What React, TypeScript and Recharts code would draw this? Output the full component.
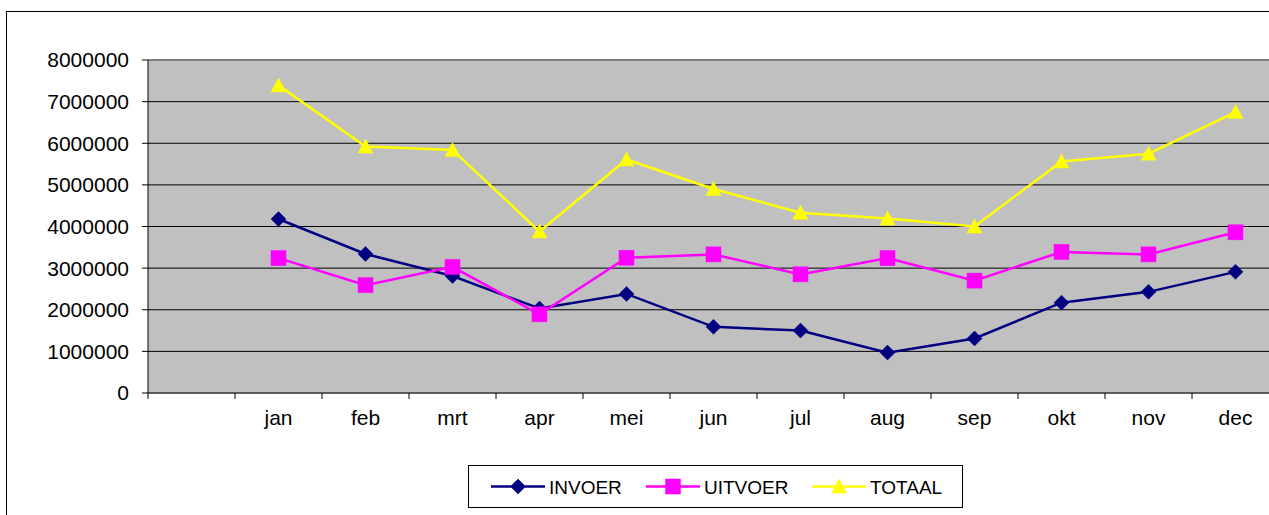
import React from 'react';
import { LineChart, Line, XAxis, YAxis, CartesianGrid } from 'recharts';

const categories = ['', 'jan', 'feb', 'mrt', 'apr', 'mei', 'jun', 'jul', 'aug', 'sep', 'okt', 'nov', 'dec'];
const invoer = [null, 4180000, 3340000, 2810000, 2030000, 2380000, 1590000, 1500000, 970000, 1310000, 2170000, 2430000, 2910000];
const uitvoer = [null, 3240000, 2590000, 3030000, 1890000, 3250000, 3330000, 2850000, 3240000, 2700000, 3390000, 3330000, 3860000];
const totaal = [null, 7390000, 5920000, 5840000, 3880000, 5610000, 4900000, 4330000, 4190000, 4000000, 5560000, 5750000, 6750000];
const yTicks = [0, 1000000, 2000000, 3000000, 4000000, 5000000, 6000000, 7000000, 8000000];

const series = [
  { key: 'INVOER', color: '#000080', shape: 'diamond' },
  { key: 'UITVOER', color: '#FF00FF', shape: 'square' },
  { key: 'TOTAAL', color: '#FFFF00', shape: 'triangle' },
];

const data = categories.map((c, i) => ({
  cat: c,
  INVOER: invoer[i],
  UITVOER: uitvoer[i],
  TOTAAL: totaal[i],
}));

const FONT = '"Liberation Sans", Arial, Helvetica, sans-serif';
const CHART_W = 1279;
const CHART_H = 515;
const PLOT_LEFT = 148;
const PLOT_TOP = 60;
const PLOT_BOTTOM = 393;
const BW = (CHART_W - PLOT_LEFT) / categories.length;

function Marker({ shape, cx, cy, color }: { shape: string; cx: number; cy: number; color: string }) {
  if (shape === 'diamond') {
    const r = 7.5;
    return <polygon points={`${cx},${cy - r} ${cx + r},${cy} ${cx},${cy + r} ${cx - r},${cy}`} fill={color} stroke={color} strokeWidth={0.5} />;
  }
  if (shape === 'square') {
    const h = 7.5;
    return <rect x={cx - h} y={cy - h} width={2 * h} height={2 * h} fill={color} stroke={color} strokeWidth={0.5} />;
  }
  return <polygon points={`${cx},${cy - 7.5} ${cx + 7.5},${cy + 6.5} ${cx - 7.5},${cy + 6.5}`} fill={color} stroke={color} strokeWidth={0.5} />;
}

const makeDot = (shape: string, color: string) => (p: any) => {
  const k = `${shape}-${p.index}`;
  if (p.cx == null || p.cy == null || p.value == null || (Array.isArray(p.value) && p.value[1] == null)) {
    return <g key={k} />;
  }
  return (
    <g key={k}>
      <Marker shape={shape} cx={p.cx} cy={p.cy} color={color} />
    </g>
  );
};

const XTick = (props: any) => {
  const { x, payload } = props;
  const bx = x - BW / 2;
  return (
    <g>
      <line x1={bx} x2={bx} y1={PLOT_BOTTOM} y2={PLOT_BOTTOM + 6} stroke="#000" strokeWidth={1} />
      {payload.value ? (
        <text x={x} y={425} textAnchor="middle" fontSize={21} fontFamily={FONT} fill="#000">
          {payload.value}
        </text>
      ) : null}
    </g>
  );
};

const gridLine = (p: any) => {
  const isTop = Math.abs(p.y1 - PLOT_TOP) < 1;
  return (
    <line
      key={`gl-${p.index}-${p.y1}`}
      x1={p.x1}
      x2={p.x2}
      y1={p.y1}
      y2={p.y2}
      stroke={isTop ? '#808080' : '#000'}
      strokeWidth={isTop ? 2 : 1}
    />
  );
};

function LegendBox() {
  const items = [
    { lineX: 24, textX: 82 },
    { lineX: 179, textX: 237 },
    { lineX: 345, textX: 403 },
  ];
  return (
    <svg
      width={496}
      height={45}
      style={{ position: 'absolute', left: 467, top: 464 }}
    >
      <rect x={1.5} y={1.5} width={494} height={42} fill="#fff" stroke="#000" strokeWidth={1} />
      {series.map((s, i) => {
        const it = items[i];
        const cy = 22.5;
        return (
          <g key={s.key}>
            <line x1={it.lineX} x2={it.lineX + 54} y1={cy} y2={cy} stroke={s.color} strokeWidth={2.5} />
            <Marker shape={s.shape} cx={it.lineX + 27} cy={cy} color={s.color} />
            <text x={it.textX} y={29.5} fontSize={19} fontFamily={FONT} fill="#000">
              {s.key}
            </text>
          </g>
        );
      })}
    </svg>
  );
}

export default function App() {
  return (
    <div
      style={{
        position: 'fixed',
        left: 0,
        top: 0,
        width: 1269,
        height: 515,
        overflow: 'hidden',
        background: '#fff',
      }}
    >
      <div
        style={{
          position: 'absolute',
          left: 6,
          top: 11,
          width: 1400,
          height: 700,
          border: '1px solid #000',
        }}
      />
      <div style={{ position: 'absolute', left: 0, top: 0 }}>
        <LineChart
          width={CHART_W}
          height={CHART_H}
          data={data}
          margin={{ top: PLOT_TOP, right: 0, left: 0, bottom: CHART_H - PLOT_BOTTOM - 30 }}
        >
          <CartesianGrid vertical={false} fill="#C0C0C0" horizontal={gridLine} />
          <XAxis
            dataKey="cat"
            scale="band"
            interval={0}
            height={30}
            tickLine={false}
            axisLine={{ stroke: '#555', strokeWidth: 1.5 }}
            tick={<XTick />}
          />
          <YAxis
            width={PLOT_LEFT}
            domain={[0, 8000000]}
            ticks={yTicks}
            interval={0}
            tickSize={6}
            tickMargin={13}
            axisLine={{ stroke: '#000' }}
            tickLine={{ stroke: '#000' }}
            tick={{ fill: '#000', fontSize: 21, fontFamily: FONT }}
          />
          {series.map((s) => (
            <Line
              key={s.key}
              dataKey={s.key}
              stroke={s.color}
              strokeWidth={2.5}
              dot={makeDot(s.shape, s.color)}
              activeDot={false}
              isAnimationActive={false}
            />
          ))}
        </LineChart>
      </div>
      <LegendBox />
    </div>
  );
}
